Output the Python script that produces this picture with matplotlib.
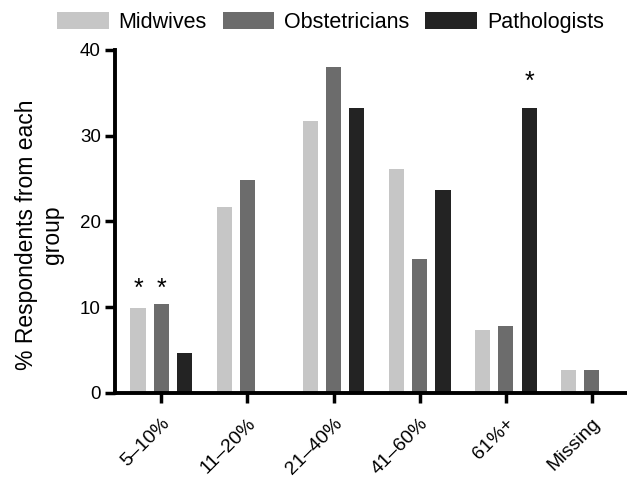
import numpy as np
import matplotlib
matplotlib.use("Agg")
import matplotlib.pyplot as plt

plt.rcParams['font.family'] = ['Liberation Sans', 'DejaVu Sans']

# data
categories = ["5–10%", "11–20%", "21–40%", "41–60%", "61%+", "Missing"]
groups = ["Midwives", "Obstetricians", "Pathologists"]
midwives = [9.9, 21.7, 31.7, 26.1, 7.3, 2.7]
obstetricians = [10.4, 24.8, 38.0, 15.6, 7.8, 2.6]
pathologists = [4.6, np.nan, 33.2, 23.7, 33.2, np.nan]
colors = ["#c6c6c6", "#6c6c6c", "#232323"]

# significance markers: (category index, series index, height)
stars = [(0, 0, 13.0), (0, 1, 13.0), (4, 2, 37.1)]

fig = plt.figure(figsize=(6.27, 4.79), dpi=100)
ax = fig.add_axes([0.184, 0.18, 0.816, 0.716])

x = np.arange(len(categories))
w = 0.175
off = 0.272
series = [midwives, obstetricians, pathologists]
for i, (vals, c, name) in enumerate(zip(series, colors, groups)):
    ax.bar(x + (i - 1) * off, vals, width=w, color=c, label=name)

star_size = 18
for ci, si, h in stars:
    ax.annotate("*", (x[ci] + (si - 1) * off, h), xytext=(0, -0.58 * star_size),
                textcoords="offset points", ha="center", va="baseline",
                fontsize=star_size, color="black")

ax.set_xlim(-0.535, 5.41)
ax.set_ylim(0, 40)
ax.set_yticks([0, 10, 20, 30, 40])
ax.set_xticks(x)
ax.set_xticklabels(categories, rotation=45, ha="right", rotation_mode="anchor",
                   fontsize=14)
ax.tick_params(axis="y", labelsize=13.5, width=2.5, length=7, direction="out")
ax.tick_params(axis="x", width=2.5, length=7, direction="out", pad=9)
for s in ["top", "right"]:
    ax.spines[s].set_visible(False)
for s in ["left", "bottom"]:
    ax.spines[s].set_linewidth(2.8)
ax.set_ylabel("% Respondents from each\ngroup", fontsize=16.5)
ax.yaxis.set_label_coords(-0.10, 0.46)

fig.legend(loc="center", bbox_to_anchor=(0.527, 0.954), ncol=3,
           frameon=False, fontsize=15.5, handlelength=2.4, handleheight=0.84,
           columnspacing=0.74, handletextpad=0.46, borderpad=0, borderaxespad=0)

fig.savefig("out.png", dpi=100)
